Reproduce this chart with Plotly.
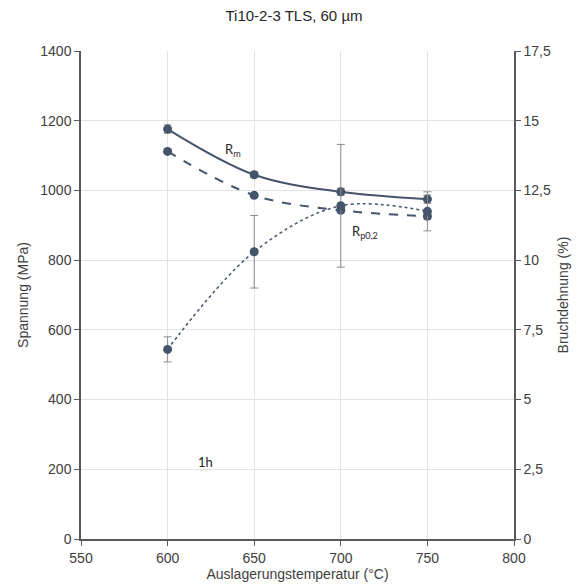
import plotly.graph_objects as go

temps = [600, 650, 700, 750]
rm = [1176, 1045, 996, 975]
rm_err = [12, 8, 10, 12]
rp = [1112, 986, 943, 926]
rp_err = [6, 6, 6, 8]
bruch = [6.8, 10.3, 11.95, 11.75]
bruch_err = [0.45, 1.3, 2.2, 0.7]

y2_ticks = [0, 2.5, 5, 7.5, 10, 12.5, 15, 17.5]
y2_labels = ['0', '2,5', '5', '7,5', '10', '12,5', '15', '17,5']

col = '#44546A'
errcol = '#8c8c8c'
axcol = '#595959'
txtcol = '#404040'

fig = go.Figure()
fig.add_trace(go.Scatter(
    x=temps, y=rm, mode='lines+markers',
    line=dict(color=col, width=2, shape='spline', smoothing=1),
    marker=dict(color=col, size=9),
    error_y=dict(type='data', array=rm_err, color=errcol, thickness=1, width=4),
    name='Rm'))
fig.add_trace(go.Scatter(
    x=temps, y=rp, mode='lines+markers',
    line=dict(color=col, width=2, dash='dash', shape='spline', smoothing=1),
    marker=dict(color=col, size=9),
    error_y=dict(type='data', array=rp_err, color=errcol, thickness=1, width=4),
    name='Rp0,2'))
fig.add_trace(go.Scatter(
    x=temps, y=bruch, mode='lines+markers', yaxis='y2',
    line=dict(color=col, width=1.5, dash='dot', shape='spline', smoothing=1),
    marker=dict(color=col, size=9),
    error_y=dict(type='data', array=bruch_err, color=errcol, thickness=1, width=4),
    name='Bruchdehnung'))

ann_font = dict(family='Lato', size=13, color='#262626')
fig.add_annotation(x=638, y=1116, text='R<sub>m</sub>', showarrow=False, font=ann_font)
fig.add_annotation(x=714, y=881, text='R<sub>p0,2</sub>', showarrow=False, font=ann_font)
fig.add_annotation(x=622, y=221, text='1h', showarrow=False, font=ann_font)

axis_common = dict(showline=True, linecolor=axcol, linewidth=1.5, ticks='outside',
                   ticklen=5, tickcolor=axcol, zeroline=False, automargin=False,
                   tickfont=dict(size=14, color=txtcol))

# page body has an 8px margin, so the figure is a bit smaller than the window
fig.update_layout(
    width=572, height=578,
    paper_bgcolor='white', plot_bgcolor='white',
    showlegend=False,
    margin=dict(l=73, r=66, t=43, b=47),
    font=dict(family='Liberation Sans, Arial', size=14, color=txtcol),
    title=dict(text='Ti10-2-3 TLS, 60 µm', x=0.5, xanchor='center',
               y=0.986, yanchor='middle',
               font=dict(size=15, color='#262626')),
    xaxis=dict(range=[550, 800], dtick=50, showgrid=True, gridcolor='#e3e3e3',
               title=dict(text='Auslagerungstemperatur (°C)', standoff=2,
                          font=dict(size=14)),
               **axis_common),
    yaxis=dict(range=[0, 1400], dtick=200, showgrid=True, gridcolor='#e3e3e3',
               title=dict(text='Spannung (MPa)', standoff=8, font=dict(size=14)),
               **axis_common),
    yaxis2=dict(range=[0, 17.5], overlaying='y', side='right',
                tickvals=y2_ticks, ticktext=y2_labels, showgrid=False,
                title=dict(text='Bruchdehnung (%)', standoff=8, font=dict(size=14)),
                **axis_common),
)

fig.write_html("out.html")
